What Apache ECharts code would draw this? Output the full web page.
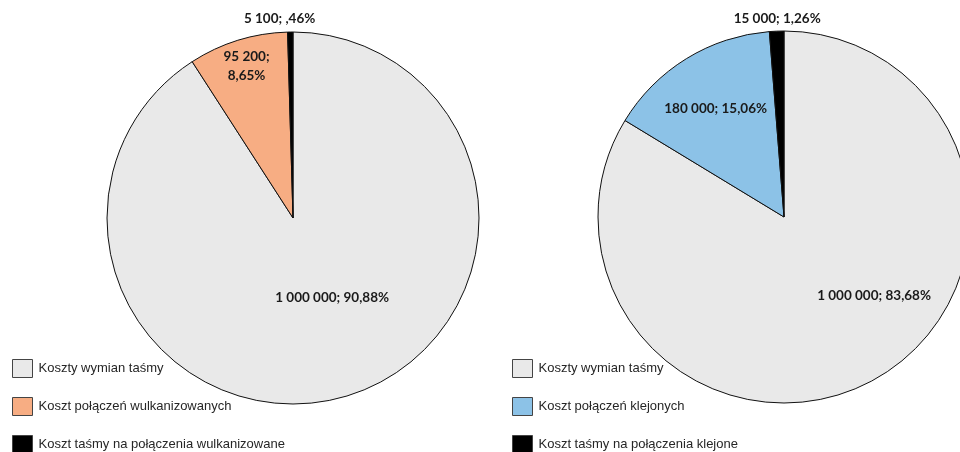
<!DOCTYPE html>
<html>
<head>
<meta charset="utf-8">
<script src="https://cdn.jsdelivr.net/npm/echarts@6/dist/echarts.min.js"></script>
<style>html,body{margin:0;padding:0;background:#fff}#c{width:960px;height:452px}</style>
</head>
<body>
<div id="c"></div>
<script>
const leftNames = ['Koszty wymian taśmy', 'Koszt połączeń wulkanizowanych', 'Koszt taśmy na połączenia wulkanizowane'];
const leftValues = [1000000, 95200, 5100];
const rightNames = ['Koszty wymian taśmy', 'Koszt połączeń klejonych', 'Koszt taśmy na połączenia klejone'];
const rightValues = [1000000, 180000, 15000];
const leftColors = ['#e9e9e9', '#f7ad83', '#000000'];
const rightColors = ['#e9e9e9', '#8cc2e7', '#000000'];

function fmtNum(v) {
  return String(v).replace(/\B(?=(\d{3})+(?!\d))/g, ' ');
}
function fmtPct(v, sum) {
  let s = (v / sum * 100).toFixed(2).replace('.', ',');
  if (s.startsWith('0,')) s = s.slice(1);
  return s + '%';
}
function makeData(names, values, colors) {
  return names.map((n, i) => ({ name: n, value: values[i], itemStyle: { color: colors[i] } }));
}
function makeFormatter(values, breakIdx) {
  const sum = values.reduce((a, b) => a + b, 0);
  return p => {
    const sep = (p.dataIndex === breakIdx) ? ';\n' : '; ';
    return fmtNum(p.value) + sep + fmtPct(p.value, sum);
  };
}
// label nudges (px) relative to the default inside position
const leftNudge = [[12, -12], [-18, -60], [-12, -103]];
const rightNudge = [[43, -5], [-18, -27], [-3, -102]];

function pieSeries(names, values, colors, center, nudge, breakIdx) {
  return {
    type: 'pie',
    center: center,
    radius: 186,
    startAngle: 90,
    clockwise: true,
    avoidLabelOverlap: false,
    animation: false,
    data: makeData(names, values, colors),
    itemStyle: { borderColor: '#111', borderWidth: 1 },
    label: {
      show: true,
      position: 'inside',
      color: '#1a1a1a',
      fontFamily: 'Lato',
      fontWeight: 'bold',
      fontSize: 13.5,
      lineHeight: 19,
      align: 'center',
      formatter: makeFormatter(values, breakIdx)
    },
    labelLine: { show: false },
    emphasis: { disabled: true },
    labelLayout: p => ({ dx: nudge[p.dataIndex][0], dy: nudge[p.dataIndex][1] })
  };
}

const legendBase = {
  orient: 'vertical',
  top: 359,
  padding: 0,
  height: 300,
  itemWidth: 20,
  itemHeight: 18,
  itemGap: 19,
  icon: 'rect',
  selectedMode: false,
  textStyle: { fontFamily: 'Liberation Sans', fontSize: 13, color: '#262626', padding: [5, 0, 0, 1] },
  itemStyle: { borderColor: '#444', borderWidth: 1 }
};

const chart = echarts.init(document.getElementById('c'), null, { renderer: 'canvas' });
chart.setOption({
  backgroundColor: '#ffffff',
  legend: [
    Object.assign({}, legendBase, { left: 12, data: leftNames }),
    Object.assign({}, legendBase, { left: 512, data: rightNames })
  ],
  series: [
    pieSeries(leftNames, leftValues, leftColors, [293, 218], leftNudge, 1),
    pieSeries(rightNames, rightValues, rightColors, [784, 217], rightNudge, -1)
  ]
});
</script>
</body>
</html>
